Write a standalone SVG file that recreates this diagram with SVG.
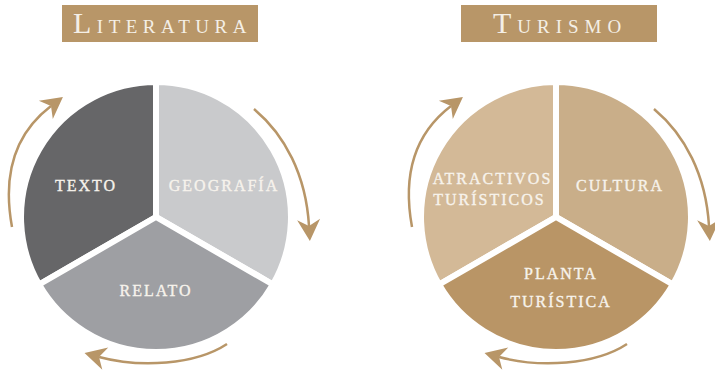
<svg xmlns="http://www.w3.org/2000/svg" width="715" height="373" viewBox="0 0 715 373">
  <style>
    .title-box { fill: #b89668; }
    .title { font-family: "Liberation Serif", "DejaVu Serif", serif; fill: #f4efe6; }
    .big { font-size: 30px; }
    .small { font-size: 19px; }
    .sector { stroke: #ffffff; stroke-width: 6; stroke-linejoin: miter; }
    .label { font-family: "Liberation Serif", "DejaVu Serif", serif; font-size: 16px; letter-spacing: 2px; fill: #f7f3ec; stroke: #f7f3ec; stroke-width: 0.35; text-anchor: middle; }
    .arrow { fill: none; stroke: #b89668; stroke-width: 2.5; marker-end: url(#head); }
  </style>
  <defs>
    <marker id="head" markerUnits="userSpaceOnUse" viewBox="0 0 24 24" markerWidth="24" markerHeight="24" refX="7" refY="12" orient="auto">
      <path d="M22,12 L0.5,0.5 L7,12 L0.5,23.5 Z" fill="#b89668"/>
    </marker>
  </defs>
  <rect width="715" height="373" fill="#ffffff"/>

  <g id="title-literatura">
    <rect class="title-box" x="62" y="5" width="196" height="37"/>
    <text class="title" x="73" y="33" letter-spacing="5.5"><tspan class="big">L</tspan><tspan class="small">ITERATURA</tspan></text>
  </g>
  <g id="title-turismo">
    <rect class="title-box" x="461" y="5" width="196" height="37"/>
    <text class="title" x="493" y="33" letter-spacing="6"><tspan class="big">T</tspan><tspan class="small">URISMO</tspan></text>
  </g>

  <g id="texto">
    <path class="sector" fill="#666668" d="M156,217 L156,82 A135,135 0 0,0 39.1,284.5 Z"/>
    <text class="label" x="86" y="191">TEXTO</text>
  </g>
  <g id="geografia">
    <path class="sector" fill="#c9cacc" d="M156,217 L156,82 A135,135 0 0,1 272.9,284.5 Z"/>
    <text class="label" x="224" y="191">GEOGRAFÍA</text>
  </g>
  <g id="relato">
    <path class="sector" fill="#9e9fa3" d="M156,217 L39.1,284.5 A135,135 0 0,0 272.9,284.5 Z"/>
    <text class="label" x="156" y="296">RELATO</text>
  </g>

  <g id="atractivos-turisticos">
    <path class="sector" fill="#d3b997" d="M556,217 L556,82 A135,135 0 0,0 439.1,284.5 Z"/>
    <text class="label" x="492.5" y="184">ATRACTIVOS</text>
    <text class="label" x="489.5" y="205">TURÍSTICOS</text>
  </g>
  <g id="cultura">
    <path class="sector" fill="#c9ae89" d="M556,217 L556,82 A135,135 0 0,1 672.9,284.5 Z"/>
    <text class="label" x="620" y="191">CULTURA</text>
  </g>
  <g id="planta-turistica">
    <path class="sector" fill="#b99566" d="M556,217 L439.1,284.5 A135,135 0 0,0 672.9,284.5 Z"/>
    <text class="label" x="561" y="279">PLANTA</text>
    <text class="label" x="561" y="307">TURÍSTICA</text>
  </g>

  <g id="connectors">
    <path class="arrow" d="M12,227 C3,178 13,135 51,106"/>
    <path class="arrow" d="M254,109 C285,135 306,175 309,226"/>
    <path class="arrow" d="M227,344 C195,365 140,368 99,357"/>
    <path class="arrow" d="M412,227 C403,178 413,135 451,106"/>
    <path class="arrow" d="M654,109 C685,135 706,175 709,226"/>
    <path class="arrow" d="M627,344 C595,365 540,368 499,357"/>
  </g>
</svg>
